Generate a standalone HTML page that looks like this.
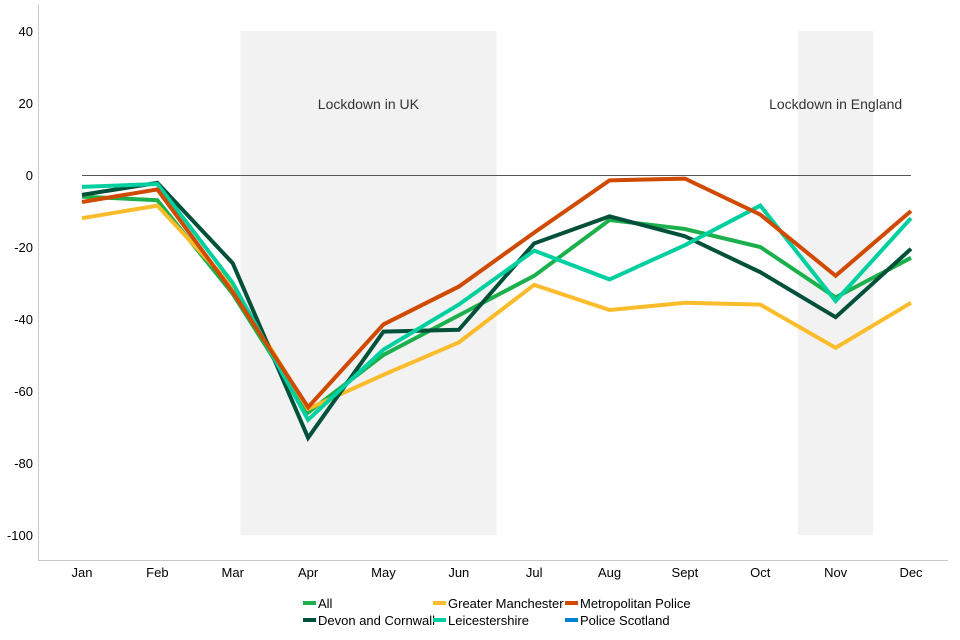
<!DOCTYPE html>
<html><head><meta charset="utf-8"><style>
body{margin:0;background:#fff;}
svg{display:block;font-family:"Liberation Sans",Arial,sans-serif;}
</style></head><body>
<svg id="chart" width="960" height="640"></svg>
<script>
const months=["Jan","Feb","Mar","Apr","May","Jun","Jul","Aug","Sept","Oct","Nov","Dec"];
const yTicks=[40,20,0,-20,-40,-60,-80,-100];
const seriesNames=["All","Greater Manchester","Devon and Cornwall","Leicestershire","Metropolitan Police","Police Scotland"];
const seriesColors=["#1bb04b","#fbbc2b","#00503a","#00d0a0","#d04a02","#0080d0"];
const allVals=[-6,-7,-33,-66,-50,-39,-28,-12.5,-15,-20,-34,-23];
const gmVals=[-12,-8.5,-31,-65,-55.5,-46.5,-30.5,-37.5,-35.5,-36,-48,-35.5];
const devonVals=[-5.5,-2.2,-24.5,-73,-43.5,-43,-19,-11.5,-17,-27,-39.5,-20.5];
const leicVals=[-3.3,-2.5,-30,-68,-48.5,-36,-21,-29,-19.5,-8.5,-35,-12];
const metVals=[-7.5,-4,-32.5,-64.5,-41.5,-31,-16,-1.5,-1,-11,-28,-10];
const scotVals=[null,null,null,null,null,null,null,null,null,null,null,null];
const lockdowns=[{label:"Lockdown in UK",from:2.1,to:5.5},{label:"Lockdown in England",from:9.5,to:10.5}];

const NS="http://www.w3.org/2000/svg";
const svg=document.getElementById("chart");
const x=i=>82+i*(911-82)/11;
const y=v=>175-v*3.6;
function el(tag,attrs,parent){const e=document.createElementNS(NS,tag);for(const k in attrs)e.setAttribute(k,attrs[k]);(parent||svg).appendChild(e);return e;}

lockdowns.forEach(l=>{
  const r=el("rect",{x:x(l.from),y:y(40),width:x(l.to)-x(l.from),height:y(-100)-y(40),fill:"#f2f2f2"});
  
  
  const t=el("text",{x:(x(l.from)+x(l.to))/2,y:y(20)+6,"text-anchor":"middle","font-size":"14",fill:"#333"});
  t.textContent=l.label;
  
  
});

const ax=el("path",{d:"M38.5 5V560.5H948",stroke:"#c8c8c8",fill:"none"});


yTicks.forEach(v=>{
  const t=el("text",{x:33,y:y(v)+5,"text-anchor":"end","font-size":"13",fill:"#000"});
  t.textContent=v;
  
  
});
months.forEach((m,i)=>{
  const t=el("text",{x:x(i),y:577,"text-anchor":"middle","font-size":"13",fill:"#000"});
  t.textContent=m;
  
  
});
const zl=el("line",{x1:x(0),x2:x(11),y1:y(0)+0.5,y2:y(0)+0.5,stroke:"#555","stroke-width":1});



const data=[allVals,gmVals,devonVals,leicVals,metVals,scotVals];
const order=[0,1,2,3,4,5];
order.forEach(si=>{
  const pts=data[si].map((v,i)=>v==null?null:x(i)+","+y(v)).filter(p=>p);
  if(pts.length<2)return;
  const p=el("polyline",{points:pts.join(" "),fill:"none",stroke:seriesColors[si],"stroke-width":4,"stroke-linejoin":"miter"});
  
  
});

const legX=[303,433,565],legY=[604,621];
const legPos=[[0,0],[1,0],[0,1],[1,1],[2,0],[2,1]];
seriesNames.forEach((n,si)=>{
  const [c,r]=legPos[si];
  const g=el("g",{});
  
  
  el("rect",{x:legX[c],y:legY[r]-3,width:13,height:4,fill:seriesColors[si]},g);
  const t=el("text",{x:legX[c]+15,y:legY[r]+4,"font-size":"13",fill:"#000"},g);
  t.textContent=n;
});
</script>
</body></html>
